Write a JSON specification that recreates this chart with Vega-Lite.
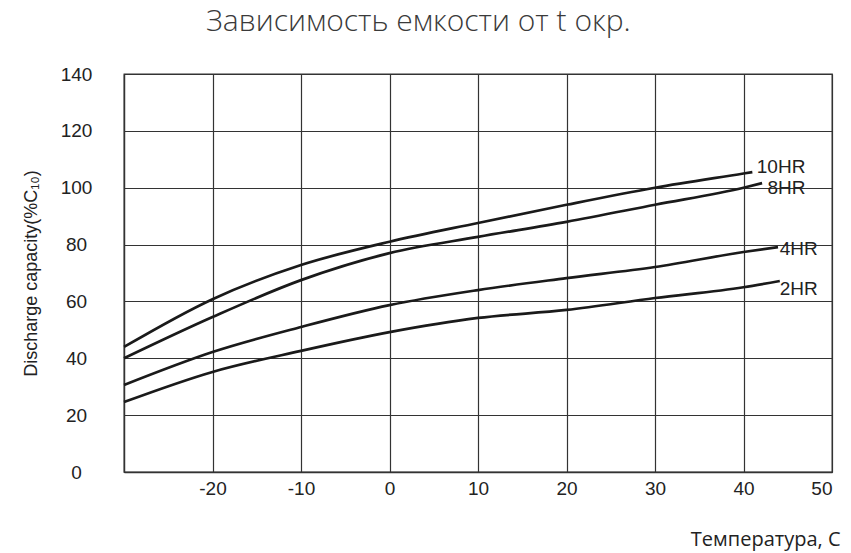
{
  "$schema": "https://vega.github.io/schema/vega-lite/v6.json",
  "width": 708,
  "height": 398,
  "autosize": "none",
  "padding": {"left": 124, "top": 74, "right": 19, "bottom": 81},
  "background": "white",
  "title": {
    "text": "Зависимость емкости от t окр.",
    "anchor": "start",
    "frame": "group",
    "dx": 82,
    "offset": 28,
    "font": "Open Sans",
    "fontSize": 30,
    "fontWeight": 300,
    "color": "#3a3a3a"
  },
  "config": {
    "view": {"stroke": "#333333", "strokeWidth": 1.3},
    "axis": {
      "grid": true,
      "gridColor": "#333333",
      "gridOpacity": 1,
      "gridWidth": 1.2,
      "domainColor": "#333333",
      "domainWidth": 1.3,
      "ticks": false,
      "tickSize": 0,
      "labelFont": "Liberation Sans",
      "labelFontSize": 19,
      "labelColor": "#222222",
      "titleFont": "Liberation Sans",
      "titleFontWeight": "normal",
      "titleColor": "#222222"
    }
  },
  "datasets": {
    "curves": [
      {"series": "10HR", "t": -30, "c": 44},
      {"series": "10HR", "t": -20, "c": 60.8},
      {"series": "10HR", "t": -10, "c": 72.8},
      {"series": "10HR", "t": 0, "c": 81},
      {"series": "10HR", "t": 10, "c": 87.6},
      {"series": "10HR", "t": 20, "c": 94},
      {"series": "10HR", "t": 30, "c": 100},
      {"series": "10HR", "t": 40, "c": 105},
      {"series": "10HR", "t": 41, "c": 105.5},
      {"series": "8HR", "t": -30, "c": 40},
      {"series": "8HR", "t": -20, "c": 54.5},
      {"series": "8HR", "t": -10, "c": 67.5},
      {"series": "8HR", "t": 0, "c": 77},
      {"series": "8HR", "t": 10, "c": 82.7},
      {"series": "8HR", "t": 20, "c": 88},
      {"series": "8HR", "t": 30, "c": 94},
      {"series": "8HR", "t": 40, "c": 100},
      {"series": "8HR", "t": 42.1, "c": 101.6},
      {"series": "4HR", "t": -30, "c": 30.6},
      {"series": "4HR", "t": -20, "c": 42.2},
      {"series": "4HR", "t": -10, "c": 51},
      {"series": "4HR", "t": 0, "c": 58.7},
      {"series": "4HR", "t": 10, "c": 64},
      {"series": "4HR", "t": 20, "c": 68.2},
      {"series": "4HR", "t": 30, "c": 72.1},
      {"series": "4HR", "t": 40, "c": 77.4},
      {"series": "4HR", "t": 43.9, "c": 79.1},
      {"series": "2HR", "t": -30, "c": 24.6},
      {"series": "2HR", "t": -20, "c": 35.2},
      {"series": "2HR", "t": -10, "c": 42.6},
      {"series": "2HR", "t": 0, "c": 49.2},
      {"series": "2HR", "t": 10, "c": 54.2},
      {"series": "2HR", "t": 20, "c": 57},
      {"series": "2HR", "t": 30, "c": 61.2},
      {"series": "2HR", "t": 40, "c": 65},
      {"series": "2HR", "t": 44.1, "c": 67.2}
    ],
    "labels": [
      {"series": "10HR", "t": 41.5, "c": 107.3},
      {"series": "8HR", "t": 42.7, "c": 99.9},
      {"series": "4HR", "t": 44.1, "c": 78.4},
      {"series": "2HR", "t": 44.1, "c": 64.4}
    ]
  },
  "layer": [
    {
      "data": {"name": "curves"},
      "mark": {"type": "line", "interpolate": "monotone", "color": "#1a1a1a", "strokeWidth": 2.7},
      "encoding": {
        "x": {
          "field": "t",
          "type": "quantitative",
          "scale": {"domain": [-30, 50], "nice": false, "zero": false},
          "axis": {
            "values": [-30, -20, -10, 0, 10, 20, 30, 40, 50],
            "labelExpr": "datum.value == -30 ? '' : toString(datum.value)",
            "labelPadding": 7,
            "title": "Температура, С",
            "titleFont": "Open Sans",
            "titleFontSize": 20,
            "titleAnchor": "end",
            "titleAlign": "right",
            "titleBaseline": "alphabetic",
            "titleX": 716,
            "titleY": 73
          }
        },
        "y": {
          "field": "c",
          "type": "quantitative",
          "scale": {"domain": [0, 140], "nice": false},
          "axis": {
            "values": [0, 20, 40, 60, 80, 100, 120, 140],
            "labelAlign": "center",
            "labelPadding": 48,
            "title": "Discharge capacity(%C₁₀)",
            "titleFontSize": 18,
            "titlePadding": 20
          }
        },
        "detail": {"field": "series"}
      }
    },
    {
      "data": {"name": "labels"},
      "mark": {"type": "text", "align": "left", "baseline": "middle", "font": "Liberation Sans", "fontSize": 19, "color": "#222222"},
      "encoding": {
        "x": {"field": "t", "type": "quantitative"},
        "y": {"field": "c", "type": "quantitative"},
        "text": {"field": "series"}
      }
    }
  ]
}
